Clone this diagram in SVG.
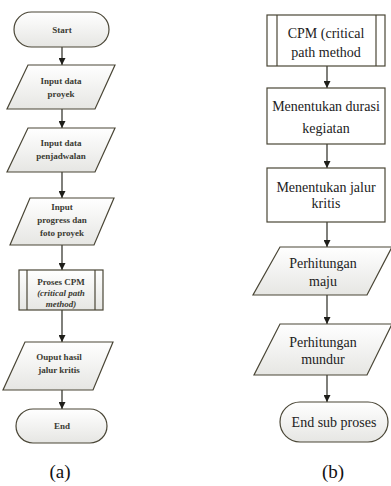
<svg xmlns="http://www.w3.org/2000/svg" width="391" height="486" viewBox="0 0 391 486">
<style>
.s{stroke:#4a4636;stroke-width:1.2}
.g{fill:url(#gr)}
.w{fill:#ffffff}
.ta{font-family:"Liberation Serif",serif;font-size:9px;font-weight:bold;fill:#3a3a32;text-anchor:middle}
.tb{font-family:"Liberation Serif",serif;font-size:14px;fill:#222222;text-anchor:middle}
.cap{font-family:"Liberation Serif",serif;font-size:19px;fill:#111111;text-anchor:middle}
.c{stroke:#2a2a22;stroke-width:1.2;fill:none;marker-end:url(#ah)}
</style>
<defs>
<linearGradient id="gr" x1="0" y1="0" x2="0" y2="1">
<stop offset="0" stop-color="#ffffff"/>
<stop offset="1" stop-color="#e6e6e3"/>
</linearGradient>
<marker id="ah" viewBox="0 0 10 10" refX="10" refY="5" markerWidth="7" markerHeight="7" markerUnits="userSpaceOnUse" orient="auto">
<path d="M0,0 L10,5 L0,10 z" fill="#1e1e1a"/>
</marker>
</defs>
<rect width="391" height="486" fill="#ffffff"/>
<g id="connectors">
<line class="c" x1="62" y1="47" x2="62" y2="65"/>
<line class="c" x1="62" y1="109" x2="62" y2="128"/>
<line class="c" x1="62" y1="172" x2="62" y2="198"/>
<line class="c" x1="62" y1="245" x2="62" y2="270"/>
<line class="c" x1="62" y1="310" x2="62" y2="342"/>
<line class="c" x1="62" y1="390" x2="62" y2="409"/>
<line class="c" x1="327" y1="66" x2="327" y2="88"/>
<line class="c" x1="327" y1="144" x2="327" y2="168"/>
<line class="c" x1="327" y1="222" x2="327" y2="247"/>
<line class="c" x1="327" y1="295" x2="327" y2="324"/>
<line class="c" x1="327" y1="375" x2="327" y2="402"/>
</g>
<g id="start">
<rect class="s g" x="14" y="12" width="95" height="35" rx="17.5"/>
<text class="ta" x="62" y="33">Start</text>
</g>
<g id="input-proyek">
<polygon class="s g" points="28,65 115,65 95,109 7,109"/>
<text class="ta" x="61" y="84">Input data</text>
<text class="ta" x="61" y="97">proyek</text>
</g>
<g id="input-jadwal">
<polygon class="s g" points="28,128 115,128 95,172 7,172"/>
<text class="ta" x="61" y="146">Input data</text>
<text class="ta" x="61" y="159">penjadwalan</text>
</g>
<g id="input-progress">
<polygon class="s g" points="30,198 114,198 94,245 10,245"/>
<text class="ta" x="62" y="210">Input</text>
<text class="ta" x="62" y="223">progress dan</text>
<text class="ta" x="62" y="236">foto proyek</text>
</g>
<g id="proses-cpm">
<rect class="s g" x="19" y="270" width="84" height="40"/>
<line class="s" x1="27" y1="270" x2="27" y2="310"/>
<line class="s" x1="95" y1="270" x2="95" y2="310"/>
<text class="ta" x="61" y="285">Proses CPM</text>
<text class="ta" x="61" y="296" font-style="italic">(critical path</text>
<text class="ta" x="61" y="307" font-style="italic">method)</text>
</g>
<g id="output">
<polygon class="s g" points="25,342 113,342 93,390 3,390"/>
<text class="ta" x="59" y="360">Ouput hasil</text>
<text class="ta" x="59" y="373">jalur kritis</text>
</g>
<g id="end">
<rect class="s g" x="16" y="409" width="91" height="34" rx="17"/>
<text class="ta" x="62" y="429">End</text>
</g>
<text class="cap" x="60" y="478">(a)</text>
<g id="cpm">
<rect class="s w" x="267" y="15" width="118" height="51"/>
<line class="s" x1="277" y1="15" x2="277" y2="66"/>
<line class="s" x1="376" y1="15" x2="376" y2="66"/>
<text class="tb" x="326" y="38">CPM (critical</text>
<text class="tb" x="326" y="57">path method</text>
</g>
<g id="durasi">
<rect class="s w" x="267" y="88" width="118" height="56"/>
<text class="tb" x="326" y="111">Menentukan durasi</text>
<text class="tb" x="326" y="133">kegiatan</text>
</g>
<g id="jalur">
<rect class="s w" x="267" y="168" width="118" height="54"/>
<text class="tb" x="326" y="192">Menentukan jalur</text>
<text class="tb" x="326" y="208">kritis</text>
</g>
<g id="maju">
<polygon class="s g" points="280,247 392,247 367,295 253,295"/>
<text class="tb" x="323" y="268">Perhitungan</text>
<text class="tb" x="323" y="286">maju</text>
</g>
<g id="mundur">
<polygon class="s g" points="280,324 392,324 367,375 254,375"/>
<text class="tb" x="323" y="347">Perhitungan</text>
<text class="tb" x="323" y="364">mundur</text>
</g>
<g id="end-sub">
<rect class="s g" x="280" y="402" width="108" height="40" rx="20"/>
<text class="tb" x="334" y="427">End sub proses</text>
</g>
<text class="cap" x="333" y="478">(b)</text>
</svg>
